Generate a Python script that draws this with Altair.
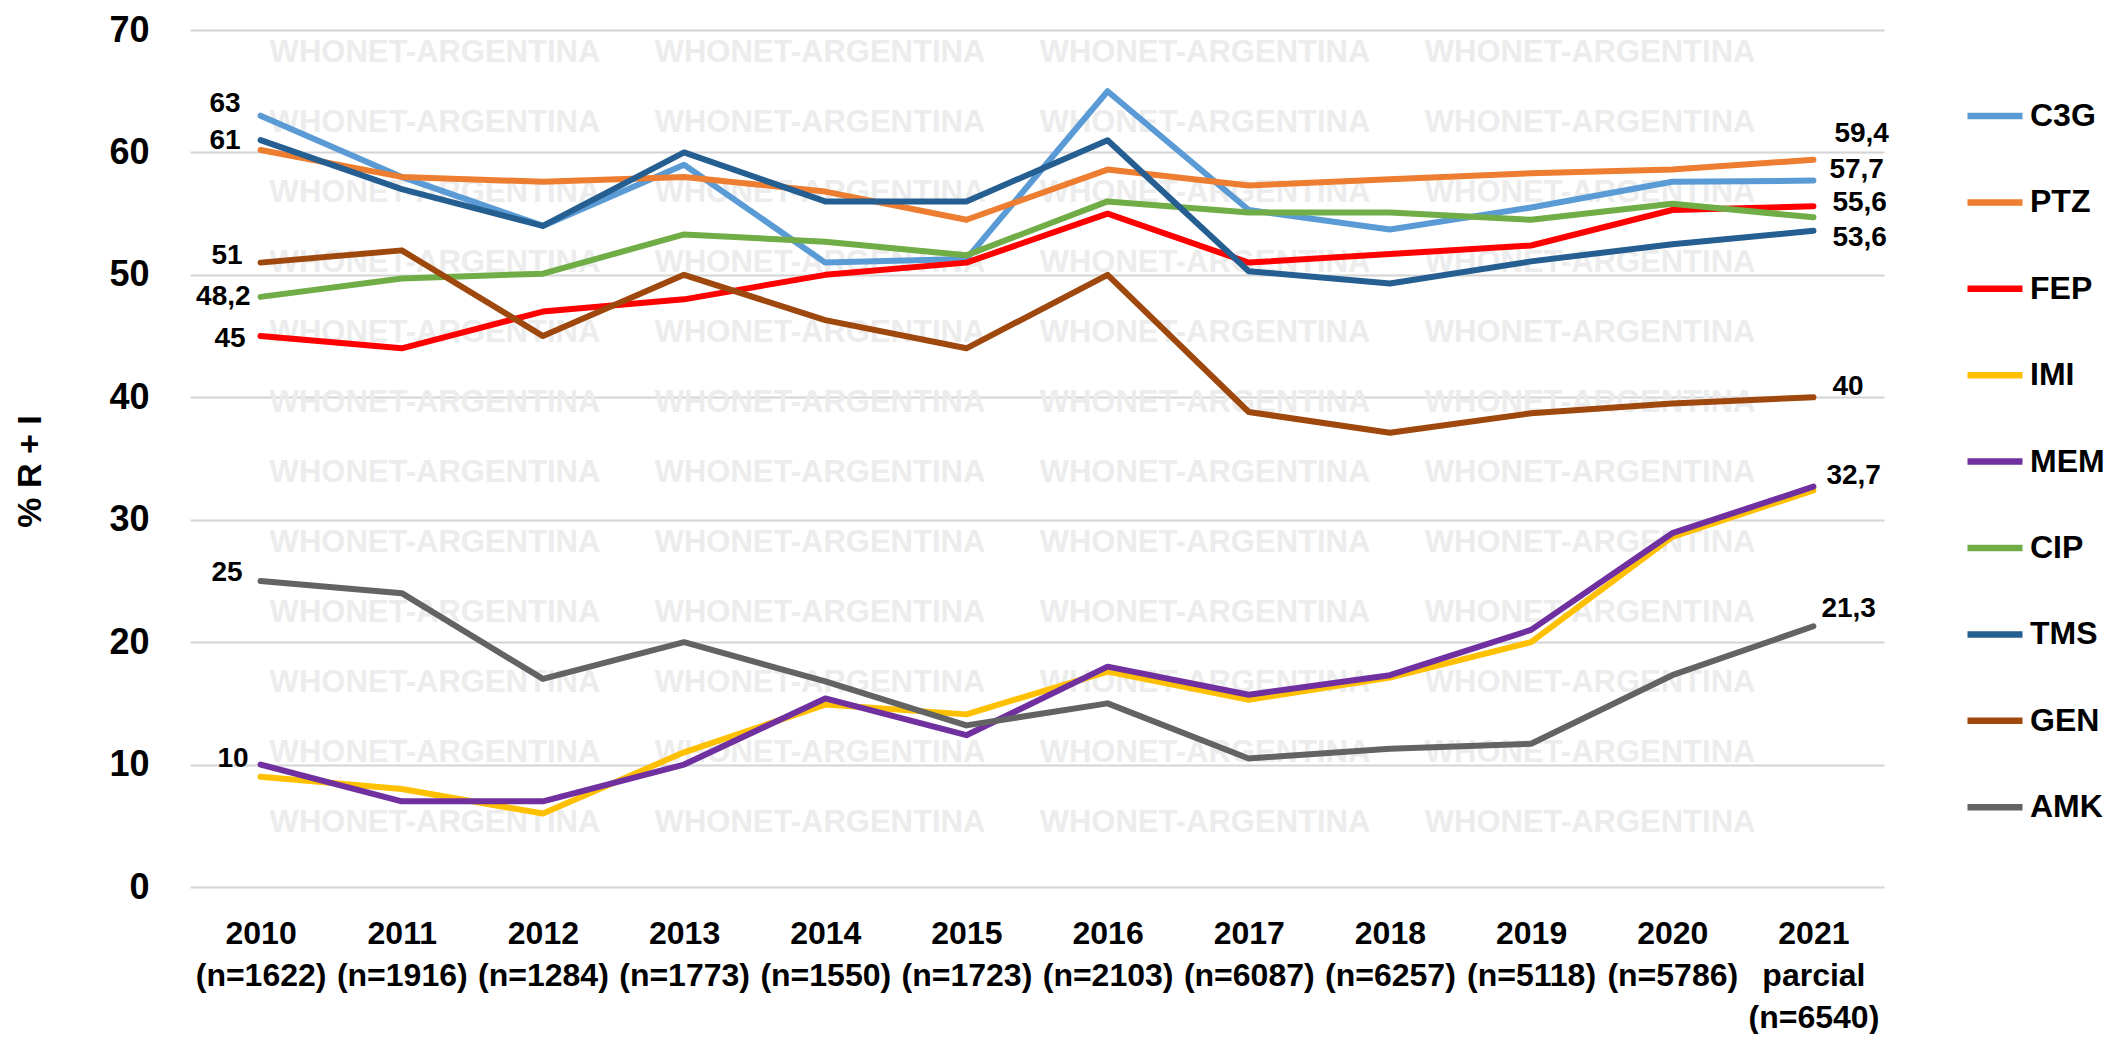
import altair as alt
import numpy as np
import pandas as pd

# ---------------- data ----------------
categories = ["2010|(n=1622)", "2011|(n=1916)", "2012|(n=1284)", "2013|(n=1773)",
              "2014|(n=1550)", "2015|(n=1723)", "2016|(n=2103)", "2017|(n=6087)",
              "2018|(n=6257)", "2019|(n=5118)", "2020|(n=5786)", "2021|parcial|(n=6540)"]

series_names = ["C3G", "PTZ", "FEP", "IMI", "MEM", "CIP", "TMS", "GEN", "AMK"]

C3G = [63, 58, 54, 59, 51, 51.3, 65, 55.3, 53.7, 55.5, 57.6, 57.7]
PTZ = [60.2, 58, 57.6, 58, 56.8, 54.5, 58.6, 57.3, 57.8, 58.3, 58.6, 59.4]
FEP = [45, 44, 47, 48, 50, 51, 55, 51, 51.7, 52.4, 55.3, 55.6]
IMI = [9, 8, 6, 11, 14.9, 14.1, 17.6, 15.3, 17.1, 20, 28.6, 32.4]
MEM = [10, 7, 7, 10, 15.4, 12.4, 18, 15.7, 17.3, 21, 28.9, 32.7]
CIP = [48.2, 49.7, 50.1, 53.3, 52.7, 51.6, 56, 55.1, 55.1, 54.5, 55.8, 54.7]
TMS = [61, 57, 54, 60, 56, 56, 61, 50.3, 49.3, 51.1, 52.5, 53.6]
GEN = [51, 52, 45, 50, 46.3, 44, 50, 38.8, 37.1, 38.7, 39.5, 40]
AMK = [25, 24, 17, 20, 16.8, 13.2, 15, 10.5, 11.3, 11.7, 17.3, 21.3]

values = {"C3G": C3G, "PTZ": PTZ, "FEP": FEP, "IMI": IMI, "MEM": MEM,
          "CIP": CIP, "TMS": TMS, "GEN": GEN, "AMK": AMK}

# series whose first / last point carries a data label
left_labels = ["C3G", "TMS", "GEN", "CIP", "FEP", "AMK", "MEM"]
right_labels = ["PTZ", "C3G", "FEP", "TMS", "GEN", "MEM", "AMK"]

# ---------------- style ----------------
colors = ["#5B9BD5", "#ED7D31", "#FF0000", "#FFC000", "#7030A0",
          "#70AD47", "#255E91", "#9E480E", "#636363"]
FONT = "Liberation Sans, Arial, sans-serif"
# label nudges in pixels (dx, dy)
left_nudge = {"C3G": (-20, -12), "TMS": (-20, 1), "GEN": (-18, -7), "CIP": (-10, 0),
              "FEP": (-15, 3), "AMK": (-18, -8), "MEM": (-12, -6)}
right_nudge = {"PTZ": (21, -26), "C3G": (16, -11), "FEP": (19, -3), "TMS": (19, 7),
               "GEN": (19, -10), "MEM": (13, -11), "AMK": (8, -17)}

rows = []
for s in series_names:
    for c, v in zip(categories, values[s]):
        rows.append({"cat": c, "series": s, "value": v,
                     "label": f"{v:g}".replace(".", ",")})
df = pd.DataFrame(rows)

W, H = 1694, 857

xenc = alt.X("cat:N", sort=categories,
             scale=alt.Scale(type="point", padding=0.5),
             axis=alt.Axis(orient="bottom", title=None, domain=False, ticks=False, grid=False,
                           labelAngle=0, labelExpr="split(datum.label, '|')",
                           labelFont=FONT, labelFontSize=32, labelFontWeight="bold",
                           labelColor="black", labelLineHeight=42, labelPadding=31,
                           labelBaseline="top"))
yenc = alt.Y("value:Q", scale=alt.Scale(domain=[0, 70], nice=False, zero=True),
             axis=alt.Axis(orient="left", values=list(range(0, 71, 10)), domain=False, ticks=False,
                           grid=True, gridColor="#d4d4d4", gridWidth=2,
                           labelFont=FONT, labelFontSize=36, labelFontWeight="bold",
                           labelColor="black", labelPadding=41,
                           title="% R + I", titleFont=FONT, titleFontSize=34,
                           titleFontWeight="bold", titleColor="black",
                           titleAngle=270, titleAlign="center", titleBaseline="middle",
                           titleX=-160, titleY=441))

color = alt.Color("series:N", scale=alt.Scale(domain=series_names, range=colors),
                  legend=alt.Legend(title=None, orient="none", legendX=1774, legendY=55,
                                    symbolType="stroke", symbolStrokeWidth=6.5,
                                    symbolSize=3025, labelFont=FONT, labelFontSize=32,
                                    labelFontWeight="bold", labelColor="black",
                                    rowPadding=39.4, labelOffset=4))

base = alt.Chart(df)
lines = []
for s in series_names:
    lines.append(base.transform_filter(alt.datum.series == s)
                 .mark_line(strokeWidth=6, strokeCap="round", strokeJoin="round")
                 .encode(x=xenc, y=yenc, color=color))

labels = []
for s in left_labels:
    dx, dy = left_nudge[s]
    labels.append(base.transform_filter((alt.datum.series == s) & (alt.datum.cat == categories[0]))
                  .mark_text(align="right", baseline="middle", dx=dx, dy=dy, font=FONT,
                             fontSize=28, fontWeight="bold", color="black")
                  .encode(x=xenc, y=yenc, text="label:N"))
for s in right_labels:
    dx, dy = right_nudge[s]
    labels.append(base.transform_filter((alt.datum.series == s) & (alt.datum.cat == categories[-1]))
                  .mark_text(align="left", baseline="middle", dx=dx, dy=dy, font=FONT,
                             fontSize=28, fontWeight="bold", color="black")
                  .encode(x=xenc, y=yenc, text="label:N"))

main = alt.layer(*lines, *labels)

# watermark grid (fractions of the plot area)
wx = 0.1446 + 0.2273 * np.arange(4)
wy = 0.027 + 0.0817 * np.arange(12)
wdf = pd.DataFrame([{"wx": a, "wy": b} for a in wx for b in wy])
wm = alt.Chart(wdf).mark_text(text="WHONET-ARGENTINA", font=FONT, fontSize=31,
                              fontWeight="bold", color="#ececec", align="center",
                              baseline="middle").encode(
    x=alt.X("wx:Q", scale=alt.Scale(domain=[0, 1]), axis=None),
    y=alt.Y("wy:Q", scale=alt.Scale(domain=[0, 1], reverse=True), axis=None))

chart = (alt.layer(wm, main)
         .resolve_scale(x="independent", y="independent")
         .properties(width=W, height=H,
                     padding={"left": 182, "top": 22, "right": 226, "bottom": 147},
                     autosize=alt.AutoSizeParams(type="none"),
                     background="white")
         .configure_view(stroke=None))

chart.save("out.html", embed_options={"renderer": "svg", "actions": False})
